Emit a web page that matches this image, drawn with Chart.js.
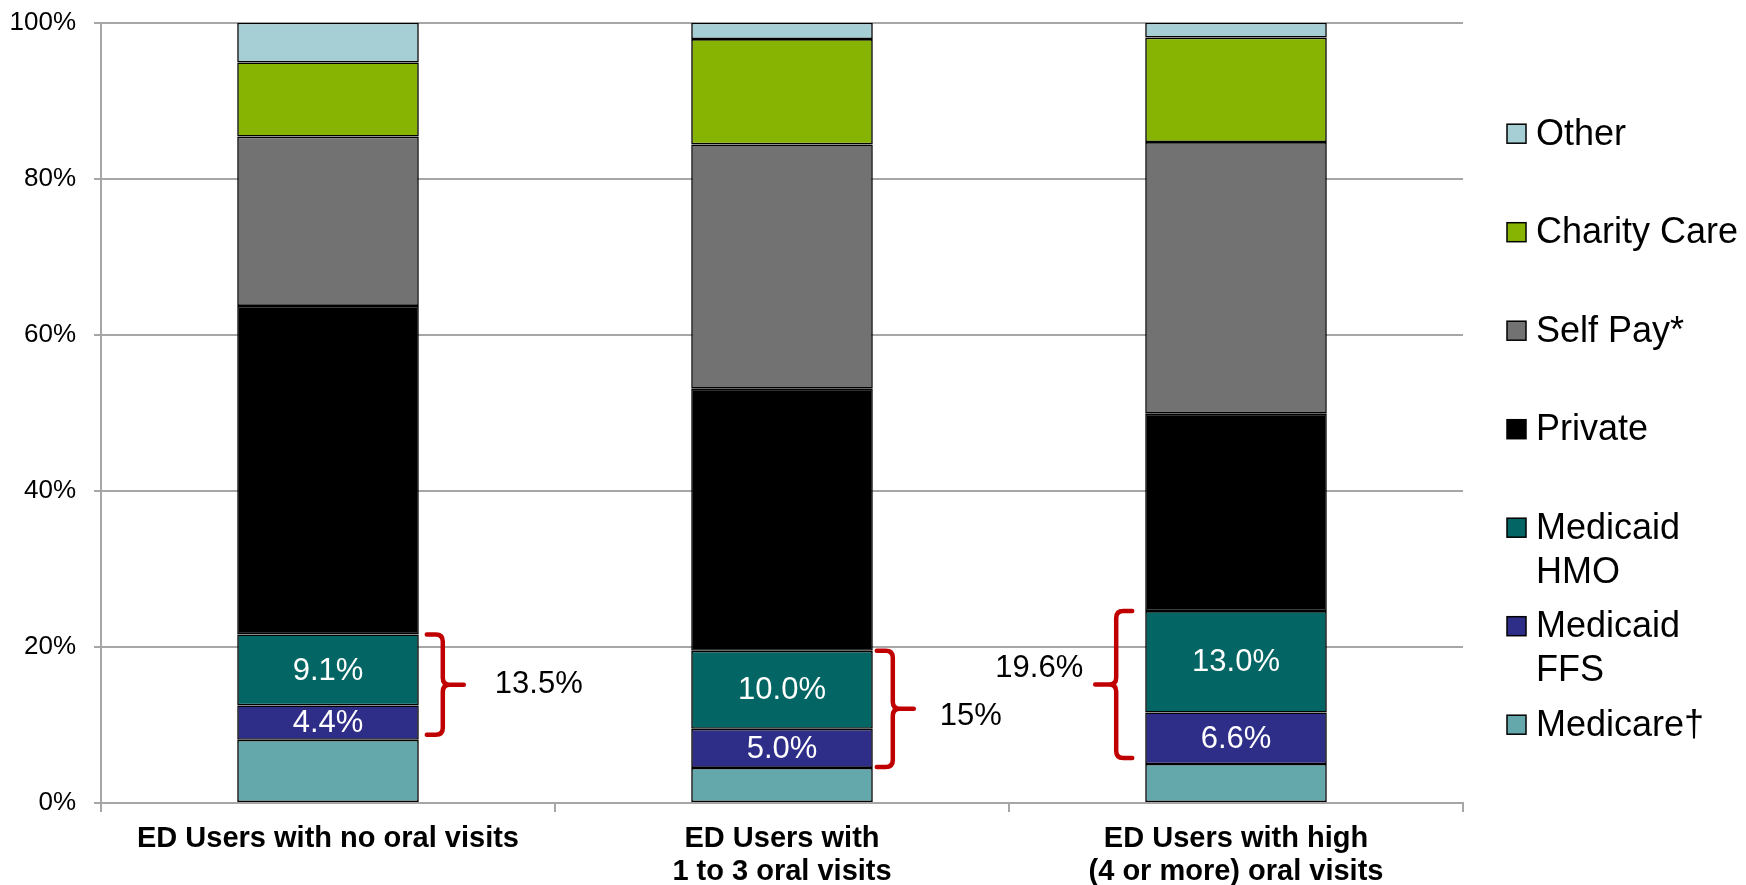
<!DOCTYPE html>
<html>
<head>
<meta charset="utf-8">
<script src="https://cdn.jsdelivr.net/npm/chart.js@4/dist/chart.umd.min.js"></script>
<style>
  html, body { margin: 0; padding: 0; background: #ffffff; }
  #wrap { width: 1746px; height: 885px; position: relative; }
  canvas { display: block; }
</style>
</head>
<body>
<div id="wrap"><canvas id="c" width="1746" height="885"></canvas></div>
<script>
// ---------------- DATA ----------------
const categories = [
  ['ED Users with no oral visits'],
  ['ED Users with', '1 to 3 oral visits'],
  ['ED Users with high', '(4 or more) oral visits']
];
const seriesNames = ['Medicare\u2020', 'Medicaid FFS', 'Medicaid HMO', 'Private', 'Self Pay*', 'Charity Care', 'Other'];
const legendLines = [['Medicare\u2020'], ['Medicaid', 'FFS'], ['Medicaid', 'HMO'], ['Private'], ['Self Pay*'], ['Charity Care'], ['Other']];
const medicare    = [8.1, 4.5, 5.0];
const medicaidFFS = [4.4, 5.0, 6.6];
const medicaidHMO = [9.1, 10.0, 13.0];
const privateIns  = [42.1, 33.6, 25.3];
const selfPay     = [21.7, 31.3, 34.8];
const charityCare = [9.5, 13.5, 13.4];
const other       = [5.1, 2.1, 1.9];
const yTickLabels = ['0%', '20%', '40%', '60%', '80%', '100%'];
const bracketLabels = ['13.5%', '15%', '19.6%'];

// ---------------- STYLE ----------------
const FONT = '"Liberation Sans", Arial, Helvetica, sans-serif';
const colors = ['#65A8AC', '#2E2D88', '#036564', '#000000', '#727272', '#87B402', '#A5CFD4'];
const gridColor = '#A6A6A6';

Chart.defaults.font.family = FONT;
Chart.defaults.color = '#000';

const seriesData = [medicare, medicaidFFS, medicaidHMO, privateIns, selfPay, charityCare, other];

const datasets = seriesData.map((d, i) => ({
  label: seriesNames[i],
  data: d,
  backgroundColor: colors[i],
  borderColor: '#000000',
  borderWidth: 1.6,
  borderSkipped: false,
  barPercentage: 0.4,
  categoryPercentage: 1.0
}));

// White value labels inside Medicaid segments
const segLabelPlugin = {
  id: 'segLabels',
  afterDatasetsDraw(chart) {
    const ctx = chart.ctx;
    ctx.save();
    ctx.font = '31px ' + FONT;
    ctx.fillStyle = '#ffffff';
    ctx.textAlign = 'center';
    ctx.textBaseline = 'middle';
    [1, 2].forEach(di => {
      const meta = chart.getDatasetMeta(di);
      meta.data.forEach((bar, i) => {
        const p = bar.getProps(['x', 'y', 'base'], true);
        const v = chart.data.datasets[di].data[i];
        ctx.fillText(v.toFixed(1) + '%', p.x, (p.y + p.base) / 2 + 1);
      });
    });
    ctx.restore();
  }
};

// Red curly brackets spanning Medicaid FFS + HMO
const bracketPlugin = {
  id: 'brackets',
  afterDatasetsDraw(chart, args, opts) {
    const ctx = chart.ctx;
    const ys = chart.scales.y;
    const meta = chart.getDatasetMeta(0);
    ctx.save();
    opts.items.forEach((b, i) => {
      const bar = meta.data[i].getProps(['x', 'width'], true);
      const dir = b.side === 'left' ? -1 : 1;
      const edge = bar.x + dir * bar.width / 2;
      const x0 = edge + dir * b.gap;
      const xv = x0 + dir * opts.arm;
      const xt = xv + dir * opts.tip;
      const lowV = medicare[i];
      const highV = medicare[i] + medicaidFFS[i] + medicaidHMO[i];
      const yt = ys.getPixelForValue(highV) + b.insetTop;
      const yb = ys.getPixelForValue(lowV) - b.insetBottom;
      const ym = (yt + yb) / 2;
      const r = opts.radius;
      ctx.strokeStyle = opts.color;
      ctx.lineWidth = opts.width;
      ctx.lineCap = 'round';
      ctx.lineJoin = 'round';
      ctx.beginPath();
      ctx.moveTo(x0, yt);
      ctx.lineTo(xv - dir * r, yt);
      ctx.quadraticCurveTo(xv, yt, xv, yt + r);
      ctx.lineTo(xv, ym - r);
      ctx.quadraticCurveTo(xv, ym, xv + dir * r, ym);
      ctx.lineTo(xt, ym);
      ctx.moveTo(xv + dir * r, ym);
      ctx.quadraticCurveTo(xv, ym, xv, ym + r);
      ctx.lineTo(xv, yb - r);
      ctx.quadraticCurveTo(xv, yb, xv - dir * r, yb);
      ctx.lineTo(x0, yb);
      ctx.stroke();

      ctx.font = '31px ' + FONT;
      ctx.fillStyle = '#000';
      ctx.textBaseline = 'middle';
      ctx.textAlign = dir > 0 ? 'left' : 'right';
      ctx.fillText(bracketLabels[i], xt + dir * b.labelDx, ym + b.labelDy);
    });
    ctx.restore();
  }
};

// Legend on the right, top-to-bottom = reverse stacking order
const sideLegendPlugin = {
  id: 'sideLegend',
  afterDraw(chart, args, opts) {
    const ctx = chart.ctx;
    const ca = chart.chartArea;
    const x = ca.right + opts.offsetX;
    ctx.save();
    ctx.font = opts.fontSize + 'px ' + FONT;
    ctx.textBaseline = 'middle';
    ctx.textAlign = 'left';
    const n = chart.data.datasets.length;
    for (let k = 0; k < n; k++) {
      const di = n - 1 - k;
      const ds = chart.data.datasets[di];
      const y = ca.top + opts.offsetY + k * opts.spacing;
      const s = opts.box;
      ctx.fillStyle = ds.backgroundColor;
      ctx.fillRect(x, y - s / 2, s, s);
      ctx.strokeStyle = '#000';
      ctx.lineWidth = 1.5;
      ctx.strokeRect(x, y - s / 2, s, s);
      ctx.fillStyle = '#000';
      legendLines[di].forEach((t, j) => {
        ctx.fillText(t, x + s + 10, y + 1 + j * opts.lineGap);
      });
    }
    ctx.restore();
  }
};

new Chart(document.getElementById('c'), {
  type: 'bar',
  data: { labels: categories, datasets: datasets },
  plugins: [segLabelPlugin, bracketPlugin, sideLegendPlugin],
  options: {
    responsive: false,
    animation: false,
    devicePixelRatio: 1,
    layout: { padding: { left: 0, right: 283, top: 22.7, bottom: 0 } },
    plugins: {
      legend: { display: false },
      tooltip: { enabled: false },
      title: { display: false },
      brackets: {
        color: '#C00000',
        width: 4.5,
        arm: 16,
        tip: 21,
        radius: 7,
        items: [
          { side: 'right', gap: 8, insetTop: 0, insetBottom: 5, labelDx: 31, labelDy: 0 },
          { side: 'right', gap: 4, insetTop: 0, insetBottom: 1, labelDx: 26, labelDy: 8 },
          { side: 'left',  gap: 13, insetTop: 0, insetBottom: 6, labelDx: 12, labelDy: -16 }
        ]
      },
      sideLegend: { offsetX: 44, offsetY: 111, spacing: 98.5, lineGap: 44, box: 19, fontSize: 36 }
    },
    scales: {
      x: {
        stacked: true,
        grid: {
          offset: true,
          display: true,
          drawOnChartArea: false,
          drawTicks: true,
          tickLength: 9,
          color: gridColor,
          lineWidth: 2
        },
        border: { display: true, color: gridColor, width: 2 },
        ticks: {
          font: { size: 29, weight: 'bold', lineHeight: 1.14 },
          color: '#000',
          padding: 10,
          maxRotation: 0,
          autoSkip: false
        },
        afterFit(scale) { scale.height = 82; scale.paddingLeft = 0; scale.paddingRight = 0; }
      },
      y: {
        stacked: true,
        min: 0,
        max: 100,
        grid: {
          color: gridColor,
          lineWidth: 2,
          drawTicks: true,
          tickLength: 7
        },
        border: { display: true, color: gridColor, width: 2 },
        ticks: {
          stepSize: 20,
          font: { size: 26 },
          color: '#000',
          padding: 18,
          callback: (v) => yTickLabels[Math.round(v / 20)]
        },
        afterFit(scale) { scale.width = 101; scale.paddingTop = 0; scale.paddingBottom = 0; }
      }
    }
  }
});
</script>
</body>
</html>
